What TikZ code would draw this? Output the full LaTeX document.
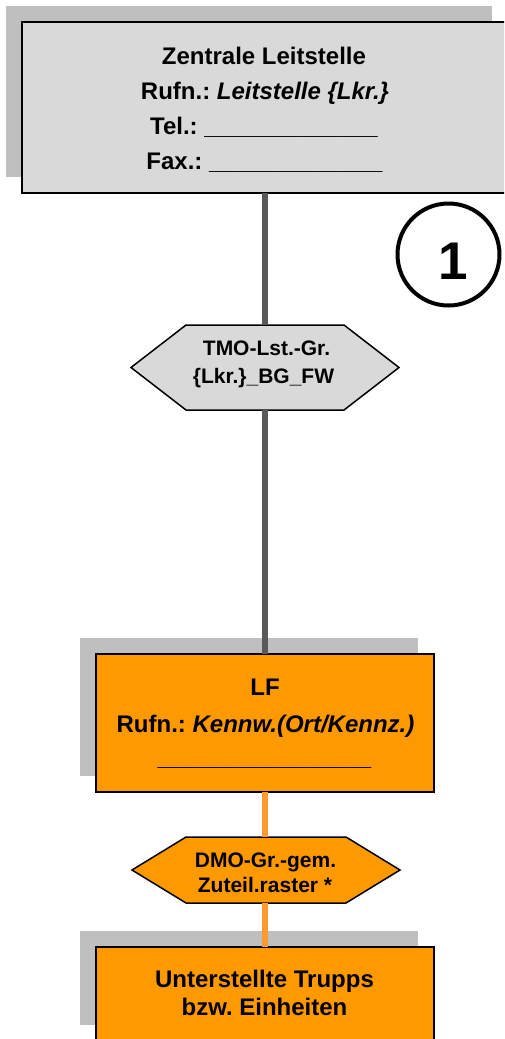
\documentclass[tikz,border=0pt]{standalone}
\usepackage{fontspec}
\setmainfont{Liberation Sans}
\usetikzlibrary{calc,shadows}
\definecolor{boxgray}{RGB}{217,217,217}
\definecolor{shadowgray}{RGB}{191,191,191}
\definecolor{linegray}{RGB}{89,89,89}
\definecolor{orangefill}{RGB}{255,153,0}
\definecolor{orangeline}{RGB}{255,153,51}
\frenchspacing
\begin{document}
\frenchspacing
\begin{tikzpicture}[x=1pt,y=-1pt,
  mainbox/.style={draw=black,line width=1.5pt,inner sep=0pt,outer sep=0pt,rectangle,
    drop shadow={shadow xshift=-16pt,shadow yshift=16pt,opacity=1,fill=shadowgray}},
  hexbase/.style={inner sep=0pt,outer sep=0pt,rectangle},
  hexline/.style={draw=black,line width=1.5pt,line join=miter},
  bigtxt/.style={anchor=base,inner sep=0pt,font=\fontsize{24}{28}\selectfont\bfseries\frenchspacing},
  hextxt/.style={anchor=base,inner sep=0pt,font=\fontsize{21}{25}\selectfont\bfseries\frenchspacing},
  grayconn/.style={draw=linegray,line width=5.5pt},
  orangeconn/.style={draw=orangeline,line width=5.5pt}]
\fill[white] (0,0) rectangle (504,1039);
\useasboundingbox (0,0) rectangle (504,1039);
\clip (0,0) rectangle (504,1039);

% boxes
\node[mainbox,fill=boxgray,minimum width=486pt,minimum height=171pt] (zls) at (265,107.5) {};
\node[mainbox,fill=orangefill,minimum width=338pt,minimum height=138pt] (lf) at (265,723) {};
\node[mainbox,fill=orangefill,minimum width=338pt,minimum height=94pt] (trupps) at (265,994) {};

% hexagons
\node[hexbase,minimum width=158pt,minimum height=85pt] (tmo) at (265,367.5) {};
\draw[hexline,fill=boxgray] (tmo.north west) -- (tmo.north east) -- ($(tmo.east)+(55,0)$)
  -- (tmo.south east) -- (tmo.south west) -- ($(tmo.west)+(-55,0)$) -- cycle;
\node[hexbase,minimum width=160pt,minimum height=66pt] (dmo) at (266,870) {};
\draw[hexline,fill=orangefill] (dmo.north west) -- (dmo.north east) -- ($(dmo.east)+(54,0)$)
  -- (dmo.south east) -- (dmo.south west) -- ($(dmo.west)+(-54,0)$) -- cycle;

% connectors
\draw[grayconn] (zls.south) -- (zls.south |- tmo.north);
\draw[grayconn] (zls.south |- tmo.south) -- (lf.north);
\draw[orangeconn] (lf.south) -- (lf.south |- dmo.north);
\draw[orangeconn] (lf.south |- dmo.south) -- (trupps.north);

% texts
\node[bigtxt] (t1) at (264,64) {Zentrale Leitstelle};
\node[bigtxt] (t2) at (265,99) {Rufn.: \textit{Leitstelle \{Lkr.\}}};
\node[bigtxt] (t3) at (264,134) {Tel.: \_\_\_\_\_\_\_\_\_\_\_\_\_};
\node[bigtxt] (t4) at (264.5,169) {Fax.: \_\_\_\_\_\_\_\_\_\_\_\_\_};

\node[hextxt] (h1) at (266.5,355) {TMO-Lst.-Gr.};
\node[hextxt] (h2) at (263.5,383) {\{Lkr.\}\_BG\_FW};

\node[bigtxt] (l1) at (265,695) {LF};
\node[bigtxt] (l2) at (265.5,732) {Rufn.: \textit{Kennw.(Ort/Kennz.)}};
\node[bigtxt] (l3) at (264.5,765) {\_\_\_\_\_\_\_\_\_\_\_\_\_\_\_\_};

\node[hextxt] (d1) at (265.5,867) {DMO-Gr.-gem.};
\node[hextxt] (d2) at (265,892) {Zuteil.raster *};

\node[bigtxt] (u1) at (264.5,987) {Unterstellte Trupps};
\node[bigtxt] (u2) at (264.5,1015) {bzw. Einheiten};

% number circle
\node[draw=black,line width=4pt,circle,minimum size=102pt,inner sep=0pt] (num) at (448.5,254.5) {};
\node[inner sep=0pt,font=\fontsize{53}{53}\selectfont\bfseries] (numtxt) at (453,261) {1};
\end{tikzpicture}
\end{document}
